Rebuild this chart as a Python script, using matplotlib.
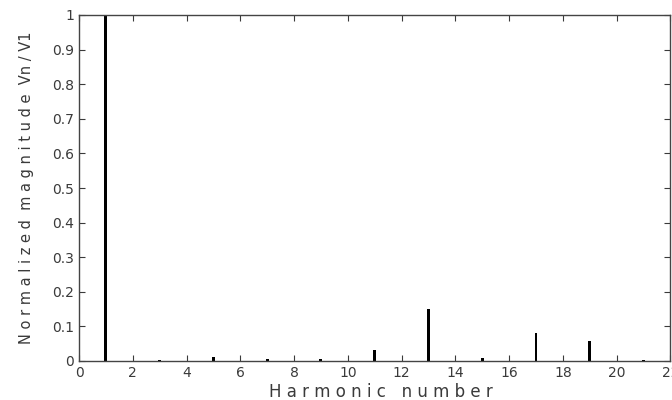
import matplotlib
matplotlib.use("Agg")
import matplotlib.pyplot as plt

# Harmonic spectrum (normalized to fundamental)
harmonics = [1, 3, 5, 7, 9, 11, 13, 15, 17, 19, 21]
magnitude = [1.0, 0.004, 0.012, 0.007, 0.005, 0.031, 0.15, 0.009, 0.082, 0.058, 0.004]

xticks = list(range(0, 23, 2))
yticks = [0, 0.1, 0.2, 0.3, 0.4, 0.5, 0.6, 0.7, 0.8, 0.9, 1]
ytick_labels = ["0", "0.1", "0.2", "0.3", "0.4", "0.5", "0.6", "0.7", "0.8", "0.9", "1"]

fig = plt.figure(figsize=(6.72, 4.0), dpi=100)
ax = fig.add_axes([0.1176, 0.0975, 0.88, 0.865])

ax.bar(harmonics, magnitude, width=0.11, color="black")

ax.set_xlim(0, 22)
ax.set_ylim(0, 1)
ax.set_xticks(xticks)
ax.set_yticks(yticks)
ax.set_yticklabels(ytick_labels)

ax.tick_params(direction="in", top=True, right=True, length=4,
               labelsize=10, colors="#3a3a3a", width=0.8)
for s in ax.spines.values():
    s.set_color("#444444")
    s.set_linewidth(1.0)

ax.set_xlabel("H a r m o n i c   n u m b e r", fontsize=12,
              color="#3a3a3a")
ax.xaxis.set_label_coords(0.51, -0.065)
ax.set_ylabel("N o r m a l i z e d  m a g n i t u d e  Vn / V1", fontsize=10.5,
              color="#3a3a3a", labelpad=13)

fig.savefig("out.png", dpi=100)
